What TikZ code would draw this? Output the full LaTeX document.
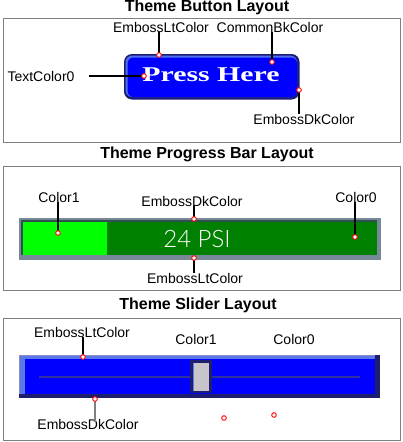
\documentclass[tikz,border=0pt]{standalone}
\usepackage{fontspec}
\usepackage{graphicx}
\setmainfont{Liberation Sans}
\newfontfamily\pressfont{Liberation Serif}
\newfontfamily\lcdfont{Lato Light}

\definecolor{panelgray}{HTML}{808080}
\definecolor{btnblue}{HTML}{0000FF}
\definecolor{btndark}{HTML}{1C1C78}
\definecolor{btnlight}{HTML}{5070E6}
\definecolor{barslate}{HTML}{778899}
\definecolor{bardark}{HTML}{2F4F4F}
\definecolor{barlime}{HTML}{00FF00}
\definecolor{bargreen}{HTML}{008000}
\definecolor{sldnavy}{HTML}{1E1E6E}
\definecolor{sldlight}{HTML}{5A78E6}
\definecolor{sldrim}{HTML}{8C8CC8}
\definecolor{sldtrack}{HTML}{3030A0}
\definecolor{thumbgray}{HTML}{C8C4CC}

\begin{document}
\begin{tikzpicture}[x=1pt,y=-1pt,
  title/.style={font=\bfseries\fontsize{16}{16}\selectfont, inner sep=0pt},
  lbl/.style={font=\fontsize{14}{14}\selectfont, inner sep=0pt},
  lead/.style={line width=1.1pt, black},
  hot/.style={circle, draw=red, fill=white, line width=0.9pt, minimum size=4.6pt, inner sep=0pt},
  panel/.style={draw=panelgray, line width=1pt}]
\useasboundingbox (0,0) rectangle (403,442);

% ---------------- button ----------------
\node[title] (t1) at (207,7) {Theme Button Layout};
\draw[panel] (3.5,18.5) rectangle (400,142);

\fill[btndark, rounded corners=8pt] (124,54) rectangle (299.5,99.5);
\fill[btnlight, rounded corners=7pt] (125.5,55.5) rectangle (297,97);
\fill[btnblue, rounded corners=6pt] (127.5,57.5) rectangle (297,97);
\node[text=white, inner sep=0pt] (press) at (211,75)
  {\scalebox{1.42}[1]{\pressfont\bfseries\fontsize{21}{21}\selectfont Press Here}};

\node[lbl] (b1) at (161,27) {EmbossLtColor};
\node[lbl] (b2) at (270,27) {CommonBkColor};
\node[lbl] (b3) at (41,76) {TextColor0};
\node[lbl] (b4) at (304,119) {EmbossDkColor};
\coordinate (b1d) at (159,55);
\coordinate (b2d) at (272,62);
\coordinate (b3d) at (144,76);
\coordinate (b4d) at (299,90);
\draw[lead] (b1.south -| b1d) -- (b1d);
\draw[lead] (b2.south -| b2d) -- (b2d);
\draw[lead] ([xshift=14pt]b3.east) -- (b3d);
\draw[lead] (b4.north -| b4d) -- (b4d);
\foreach \d in {b1d,b2d,b3d,b4d} \node[hot] at (\d) {};

% ---------------- progress bar ----------------
\node[title] (t2) at (207,154) {Theme Progress Bar Layout};
\draw[panel] (3.5,166) rectangle (400,290);

\fill[barslate] (19,218) rectangle (380.5,259.5);
\fill[bardark] (21,219.5) rectangle (376.5,254.5);
\fill[barlime] (23,222) rectangle (107,254.5);
\fill[bargreen] (107,222) rectangle (376.5,254.5);
\node[text=white, inner sep=0pt, font=\lcdfont\fontsize{24}{24}\selectfont] (psi) at (197,239) {24 PSI};

\node[lbl] (p1) at (59,197) {Color1};
\node[lbl] (p2) at (192,201) {EmbossDkColor};
\node[lbl] (p3) at (356,197) {Color0};
\node[lbl] (p4) at (195,278) {EmbossLtColor};
\coordinate (p1d) at (58,233);
\coordinate (p2d) at (194,219);
\coordinate (p3d) at (355,237);
\coordinate (p4d) at (194,258);
\draw[lead] (p1.south -| p1d) -- (p1d);
\draw[lead] (p2.south -| p2d) -- (p2d);
\draw[lead] (p3.south -| p3d) -- (p3d);
\draw[lead] (p4.north -| p4d) -- (p4d);
\foreach \d in {p1d,p2d,p3d,p4d} \node[hot] at (\d) {};

% ---------------- slider ----------------
\node[title] (t3) at (198,305) {Theme Slider Layout};
\draw[panel] (3.5,318) rectangle (400,440.5);

\fill[sldnavy] (19,355) rectangle (380,398);
\fill[sldlight] (19,355) rectangle (374.5,394);
\fill[sldrim] (19,355) rectangle (374.5,356);
\fill[sldrim] (19,355) rectangle (20,394);
\fill[btnblue] (24.5,358.5) rectangle (374.5,394);
\draw[sldtrack, line width=1.8pt] (39,377) -- (360,377);
\fill[sldnavy] (190,359.5) rectangle (211.5,393);
\fill[thumbgray] (193,362.5) rectangle (208.5,390.5);
\fill[sldlight] (193,362.5) rectangle (194.2,390.5);

\node[lbl] (s1) at (82,332) {EmbossLtColor};
\node[lbl] (s2) at (196,339) {Color1};
\node[lbl] (s3) at (294,339) {Color0};
\node[lbl] (s4) at (88,424) {EmbossDkColor};
\coordinate (s1d) at (83,357);
\coordinate (s4d) at (95,399);
\coordinate (s2d) at (224,418);
\coordinate (s3d) at (274,415);
\draw[lead] (s1.south -| s1d) -- (s1d);
\draw[line width=1.5pt, panelgray] ([yshift=-3pt]s4.north -| s4d) -- (s4d);
\foreach \d in {s1d,s2d,s3d,s4d} \node[hot] at (\d) {};
\end{tikzpicture}
\end{document}
